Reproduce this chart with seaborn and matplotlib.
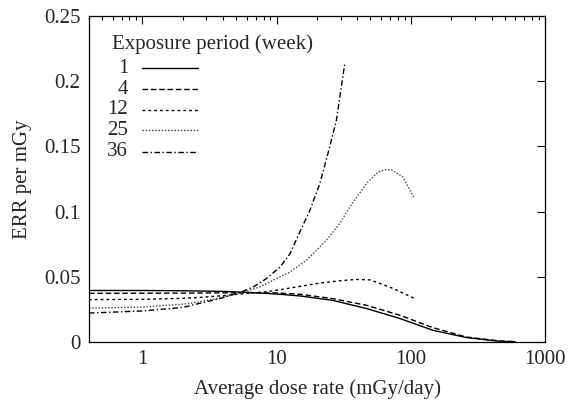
import numpy as np
import pandas as pd
import matplotlib
matplotlib.use("Agg")
import matplotlib.pyplot as plt
import seaborn as sns
from matplotlib.ticker import FixedLocator, FixedFormatter, LogLocator, NullFormatter

sns.set_style("white")
plt.rcParams["font.family"] = ["Liberation Serif", "DejaVu Serif"]

# dose rate (mGy/day) and ERR per mGy
rate_w1 = [0.4, 1, 2, 4, 6.3, 10, 15, 26, 47, 83, 146, 260, 460, 600]
err_w1 = [0.0395, 0.0395, 0.0393, 0.0388, 0.0380, 0.0368, 0.0353, 0.0320,
          0.0256, 0.0180, 0.0090, 0.0034, 0.0005, 0.0002]

rate_w4 = [0.4, 1, 2, 4, 6.3, 10, 15, 26, 47, 83, 146, 260, 460, 600]
err_w4 = [0.0373, 0.0374, 0.0375, 0.0377, 0.0378, 0.0376, 0.0366, 0.0333,
          0.0281, 0.0205, 0.0110, 0.0038, 0.0008, 0.0003]

rate_w12 = [0.4, 1, 2, 2.68, 4, 6.3, 8.4, 11.2, 16.7, 22.2, 30, 39.3, 50, 74, 107]
err_w12 = [0.0325, 0.0327, 0.0335, 0.0342, 0.0355, 0.0375, 0.0385, 0.0405,
           0.0435, 0.0455, 0.0470, 0.0480, 0.0476, 0.0410, 0.0333]

rate_w25 = [0.4, 1, 2, 2.68, 3.78, 5, 6.3, 7.5, 9.4, 12.5, 16.7, 23.5, 29.5,
            35.1, 46.7, 57, 65, 72, 87.5, 105]
err_w25 = [0.0260, 0.0268, 0.0290, 0.0308, 0.0338, 0.0368, 0.0397, 0.0422,
           0.0473, 0.0535, 0.0627, 0.0780, 0.0908, 0.1035, 0.1215, 0.1304,
           0.1322, 0.1320, 0.1265, 0.1110]

rate_w36 = [0.4, 1, 2, 2.68, 3.78, 5.6, 6.7, 8.4, 10.6, 12.6, 14.9, 17.7, 21,
            24.2, 27.9, 32.2]
err_w36 = [0.0222, 0.0238, 0.0265, 0.0297, 0.0333, 0.0389, 0.0422, 0.0486,
           0.0575, 0.0678, 0.0845, 0.1010, 0.1215, 0.1450, 0.1700, 0.2135]

weeks = ["1", "4", "12", "25", "36"]
rates = [rate_w1, rate_w4, rate_w12, rate_w25, rate_w36]
errs = [err_w1, err_w4, err_w12, err_w25, err_w36]

df = pd.concat(
    [pd.DataFrame({"rate": r, "err": e, "week": w}) for w, r, e in zip(weeks, rates, errs)],
    ignore_index=True,
)

dash_map = {
    "1": "",
    "4": (4, 2),
    "12": (2, 2.2),
    "25": (1, 1.3),
    "36": (4, 1.8, 1, 1.8),
}
color_map = {"1": "black", "4": "black", "12": "black", "25": "#444444", "36": "black"}

fig = plt.figure(figsize=(5.68, 4.04), dpi=100)
ax = fig.add_axes([89 / 568, 1 - 342 / 404, 456 / 568, 326 / 404])

sns.lineplot(data=df, x="rate", y="err", hue="week", style="week",
             hue_order=weeks, style_order=weeks, palette=color_map,
             dashes=dash_map, linewidth=1.0, sort=False, estimator=None,
             legend=False, ax=ax)

ax.set_xscale("log")
ax.set_xlim(0.4, 1000)
ax.set_ylim(0, 0.25)

ax.xaxis.set_major_locator(FixedLocator([1, 10, 100, 1000]))
ax.xaxis.set_major_formatter(FixedFormatter(["1", "10", "100", "1000"]))
ax.xaxis.set_minor_locator(LogLocator(base=10, subs=np.arange(2, 10)))
ax.xaxis.set_minor_formatter(NullFormatter())
yt = [0, 0.05, 0.1, 0.15, 0.2, 0.25]
ax.yaxis.set_major_locator(FixedLocator(yt))
ax.yaxis.set_major_formatter(FixedFormatter(["0", "0.05", "0.1", "0.15", "0.2", "0.25"]))

FS = 15
ax.tick_params(which="both", direction="in", top=True, right=True,
               labelsize=FS, color="black", width=0.8)
ax.tick_params(which="major", length=5.5, pad=6)
ax.tick_params(which="minor", length=3)
for s in ax.spines.values():
    s.set_color("black")
    s.set_linewidth(0.9)

ax.set_xlabel("Average dose rate (mGy/day)", fontsize=FS, labelpad=7)
ax.set_ylabel("ERR per mGy", fontsize=FS, labelpad=9)

# gnuplot-style key: label on the left, line sample on the right
ax.text(0.050, 0.914, "Exposure period (week)", transform=ax.transAxes,
        fontsize=FS, ha="left", va="center")
key_y = [0.840, 0.776, 0.713, 0.650, 0.583]
for w, ky in zip(weeks, key_y):
    ax.text(0.086, ky, w, transform=ax.transAxes, fontsize=FS,
            ha="right", va="center")
    ls = "-" if dash_map[w] == "" else (0, dash_map[w])
    ax.plot([0.117, 0.239], [ky, ky], transform=ax.transAxes,
            color=color_map[w], linestyle=ls, linewidth=1.0)

fig.savefig("out.png", dpi=100)
